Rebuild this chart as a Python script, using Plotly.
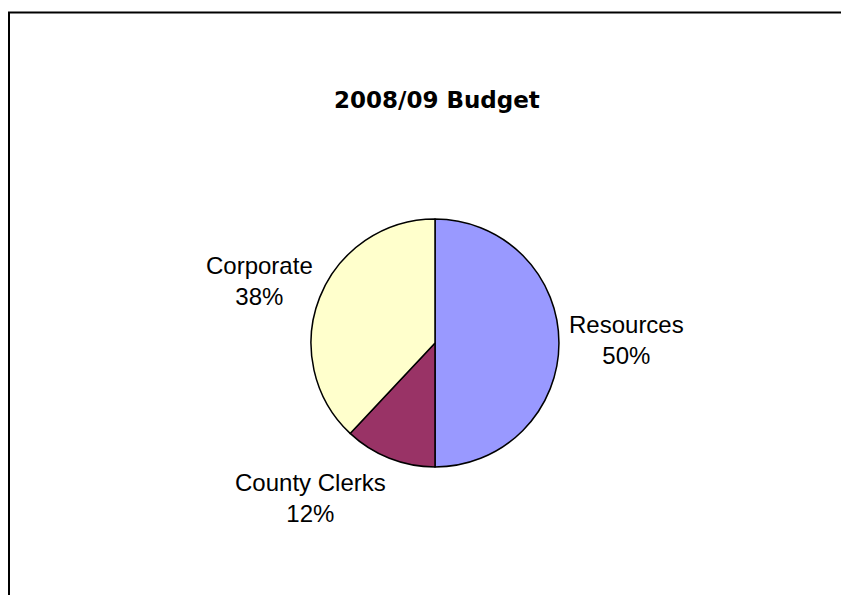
import plotly.graph_objects as go

title_text = "2008/09 Budget"
labels = ["Resources", "County Clerks", "Corporate"]
values = [50, 12, 38]
colors = ["#9999FF", "#993366", "#FFFFCC"]

# the page body has an 8px margin; work in window pixels and convert
OFF = 8
WF, HF = 849 - OFF, 595 - OFF


def fx(x):
    return (x - OFF) / WF


def fy(y):
    return 1 - (y - OFF) / HF


total = sum(values)
pcts = [round(v / total * 100) for v in values]

# label anchor positions in window pixels (layout only)
label_pos = {
    "Resources": (626, 340),
    "County Clerks": (310, 498),
    "Corporate": (260, 281),
}

cx, cy, r = 435, 343, 124

fig = go.Figure()
fig.add_trace(go.Pie(
    labels=labels,
    values=values,
    sort=False,
    direction="clockwise",
    rotation=0,
    marker=dict(colors=colors, line=dict(color="black", width=1.5)),
    textinfo="none",
    hoverinfo="label+percent",
    showlegend=False,
    domain=dict(x=[fx(cx - r), fx(cx + r)], y=[fy(cy + r), fy(cy - r)]),
))

annotations = [dict(
    text="<b>" + title_text + "</b>",
    x=fx(437), y=fy(100), xref="paper", yref="paper",
    xanchor="center", yanchor="middle", showarrow=False,
    font=dict(family="DejaVu Sans", size=23, color="black"),
)]
for lab, p in zip(labels, pcts):
    px, py = label_pos[lab]
    annotations.append(dict(
        text=f"{lab}<br>{p}%",
        x=fx(px), y=fy(py), xref="paper", yref="paper",
        xanchor="center", yanchor="middle", showarrow=False,
        font=dict(family="Liberation Sans, Arial", size=24, color="black"),
    ))

fig.update_layout(
    width=WF, height=HF,
    margin=dict(l=0, r=0, t=0, b=0),
    paper_bgcolor="white", plot_bgcolor="white",
    annotations=annotations,
    shapes=[dict(type="rect", xref="paper", yref="paper",
                 x0=fx(9), x1=1.3, y0=-0.3, y1=fy(12.5),
                 line=dict(color="black", width=2))],
)

fig.write_html("out.html")
